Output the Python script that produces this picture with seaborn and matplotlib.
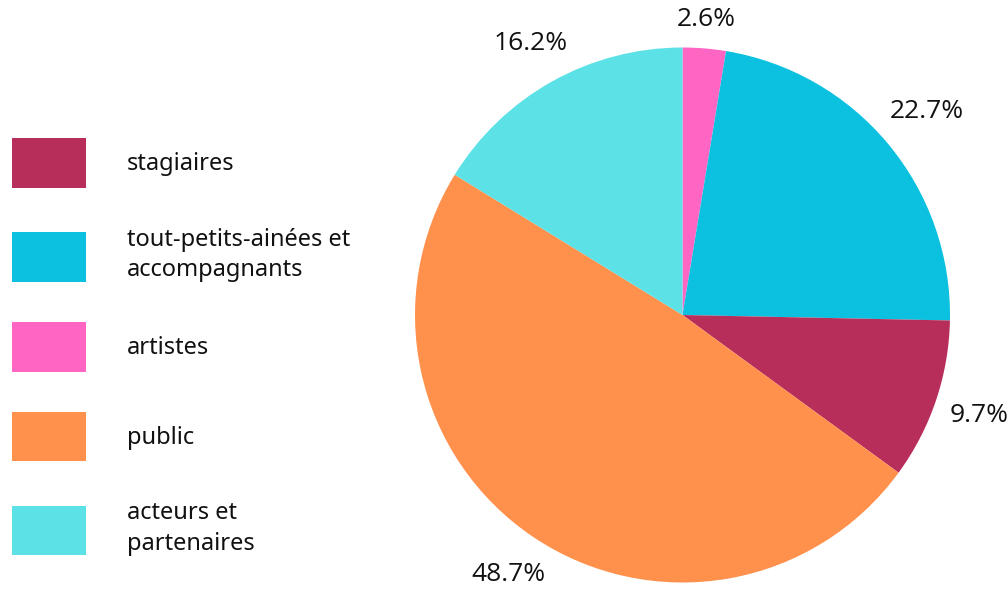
import matplotlib
matplotlib.use("Agg")
import matplotlib.pyplot as plt
import numpy as np
import seaborn as sns

# Data (pie order, clockwise from top)
categories = ["artistes", "tout-petits-ainées et\naccompagnants", "stagiaires", "public", "acteurs et\npartenaires"]
values = [2.6, 22.7, 9.7, 48.7, 16.2]
colors = ["#FF66C4", "#0CC0DF", "#B82E5A", "#FF914D", "#5CE1E6"]
# Legend order
legend_order = ["stagiaires", "tout-petits-ainées et\naccompagnants", "artistes", "public", "acteurs et\npartenaires"]

sns.set_theme(style="white")
plt.rcParams['font.family'] = ['Noto Sans', 'DejaVu Sans']

fig = plt.figure(figsize=(10.08, 5.92), dpi=100)
ax = fig.add_axes([415/1008, 9/592, 535/1008, 536/592])
palette = sns.color_palette(colors)

wedges, texts, autotexts = ax.pie(
    values, colors=palette, startangle=90, counterclock=False,
    autopct="%.1f%%", pctdistance=1.15,
    wedgeprops=dict(linewidth=0),
    textprops=dict(fontsize=19, color="#111111", family=["Open Sans", "DejaVu Sans"]),
)
ax.set_aspect("equal")
ax.set_xlim(-1, 1)
ax.set_ylim(-1, 1)
ax.axis("off")

# place percentage labels just outside the rim, accounting for text size
fig.canvas.draw()
renderer = fig.canvas.get_renderer()
px_per_unit = ax.transData.transform((1, 0))[0] - ax.transData.transform((0, 0))[0]
pad_px = 14
for w, t in zip(wedges, autotexts):
    th = np.deg2rad((w.theta1 + w.theta2) / 2)
    bb = t.get_window_extent(renderer)
    half = (bb.width / 2 * abs(np.cos(th)) + bb.height / 2 * abs(np.sin(th))) / px_per_unit
    r = 1 + pad_px / px_per_unit + half
    t.set_position((r * np.cos(th), r * np.sin(th)))
    t.set_ha("center")
    t.set_va("center")

handle_map = dict(zip(categories, wedges))
handles = [handle_map[c] for c in legend_order]
leg = fig.legend(
    handles, legend_order,
    loc="upper left",
    bbox_to_anchor=(12/1008, (592-138)/592),
    bbox_transform=fig.transFigure,
    frameon=False, fontsize=17,
    handlelength=3.15, handleheight=2.85,
    handletextpad=1.7, labelspacing=1.7,
    borderpad=0, borderaxespad=0,
    labelcolor="#111111",
)
for t in leg.get_texts():
    t.set_linespacing(1.35)

fig.savefig("out.png", dpi=100)
